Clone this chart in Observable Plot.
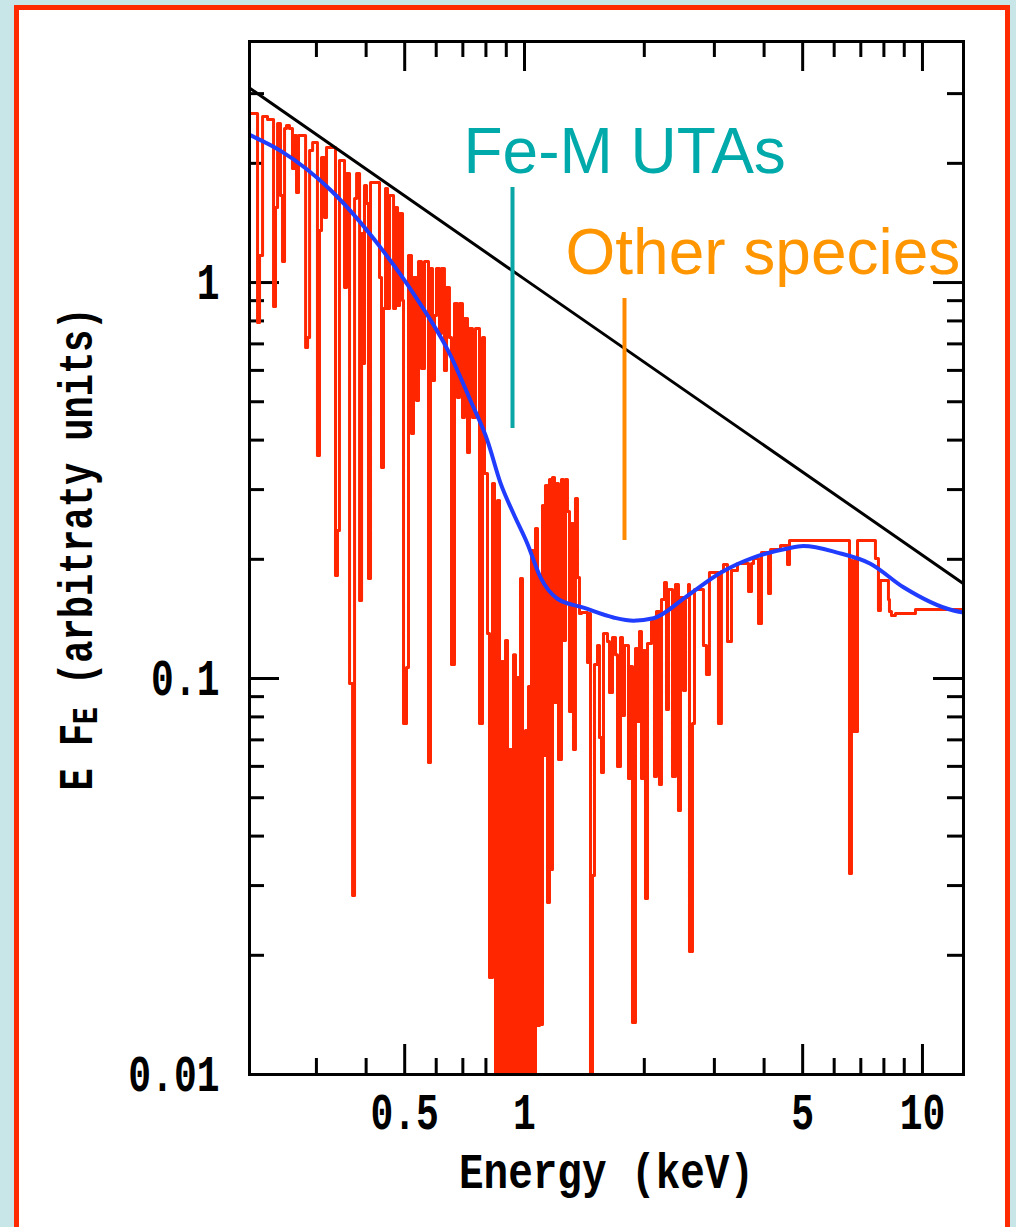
<!DOCTYPE html>
<html>
<head>
<meta charset="utf-8">
<script src="https://cdn.jsdelivr.net/npm/d3@7"></script>
<script src="https://cdn.jsdelivr.net/npm/@observablehq/plot@0.6"></script>
<style>
html, body { margin: 0; padding: 0; }
body { width: 1016px; height: 1227px; background: #c8e6e8; position: relative; overflow: hidden; }
#panel { position: absolute; left: 14px; top: 5px; width: 996px; height: 1260px; border: 5px solid #ff2a00; background: #ffffff; box-sizing: border-box; }
#chart { position: absolute; left: 0; top: 0; }
#chart svg { display: block; }
</style>
</head>
<body>
<div id="panel"></div>
<div id="chart"></div>
<script>
// ---------- data ----------
// Red: absorbed model spectrum (step histogram), energy in keV
const redEnergy = [
  0.2014,0.2134,0.2159,0.2197,0.2261,0.2341,0.2368,0.2396,0.2437,0.2466,
  0.2495,0.2523,0.2567,0.2612,0.2643,0.2674,0.2705,0.2818,0.2851,0.2884,
  0.2935,0.3018,0.3054,0.3090,0.3144,0.3181,0.3350,0.3389,0.3428,0.3530,
  0.3571,0.3634,0.3698,0.3741,0.3785,0.3851,0.3896,0.3918,0.3963,0.4009,
  0.4055,0.4103,0.4322,0.4372,0.4423,0.4475,0.4527,0.4580,0.4688,0.4742,
  0.4797,0.4853,0.4938,0.4966,0.5053,0.5111,0.5201,0.5261,0.5353,0.5416,
  0.5510,0.5607,0.5738,0.5805,0.5872,0.5941,0.6010,0.6115,0.6186,0.6293,
  0.6368,0.6478,0.6554,0.6669,0.6785,0.6864,0.6985,0.7066,0.7191,0.7274,
  0.7402,0.7532,0.7707,0.7843,0.7934,0.8073,0.8167,0.8310,0.8407,0.8455,
  0.8555,0.8654,0.8754,0.8857,0.8960,0.9064,0.9170,0.9276,0.9384,0.9493,
  0.9603,0.9715,0.9770,0.9885,1.0000,1.0058,1.0116,1.0234,1.0353,1.0413,
  1.0534,1.0596,1.0657,1.0781,1.0906,1.0970,1.1097,1.1162,1.1291,1.1423,
  1.1556,1.1623,1.1758,1.1895,1.2033,1.2173,1.2386,1.2530,1.2676,1.2823,
  1.2972,1.3123,1.3276,1.3430,1.3587,1.3745,1.3905,1.4397,1.4565,1.4649,
  1.4820,1.4992,1.5255,1.5432,1.5612,1.5793,1.6163,1.6351,1.6639,1.6930,
  1.7127,1.7427,1.7630,1.7835,1.8252,1.8464,1.8679,1.9006,1.9227,1.9451,
  1.9677,1.9906,2.0138,2.0372,2.0849,2.1213,2.1460,2.1836,2.2090,2.2477,
  2.2738,2.3003,2.3541,2.3953,2.4373,2.4657,2.5090,2.5382,2.5826,2.5976,
  2.6431,2.6739,2.8163,2.8656,2.9158,3.0715,3.1252,3.1623,3.2364,3.3121,
  3.4291,3.6550,3.7190,3.7623,3.8726,3.9404,4.1039,4.1516,4.3987,4.5802,
  4.6336,6.556,6.632,6.670,6.748,6.7887,6.867,
  7.6186,7.7519,7.8422,8.2133,8.2611,8.3572,8.5528,9.6030,12.68
];
const redFlux = [
  2.672,0.7924,1.170,2.626,2.580,0.8697,1.547,2.520,1.659,1.130,
  2.448,2.491,2.448,1.941,2.350,1.688,2.350,0.6853,0.7262,2.154,
  2.257,0.3658,1.353,2.069,1.459,2.192,0.1820,0.2365,2.033,0.9713,
  1.885,0.09713,0.02831,1.630,1.885,0.1574,1.330,0.6243,1.758,1.583,
  0.1789,1.789,1.030,0.3409,0.8599,1.727,0.8599,1.659,0.8599,1.547,
  0.8748,1.494,0.9006,0.07697,0.1066,1.170,0.4155,1.030,0.5036,1.130,
  0.6065,1.130,0.06136,1.085,0.5657,0.8254,1.085,0.7433,1.085,0.5995,
  0.9713,0.7262,0.1085,0.8851,0.5124,0.8851,0.4561,0.8111,0.3722,0.7654,
  0.4561,0.7654,0.07697,0.7262,0.3294,0.1299,0.01758,0.3108,0.1307,0.009,
  0.2814,0.009,0.1104,0.009,0.1247,0.009,0.06617,0.009,0.1149,0.009,
  0.1006,0.009,0.1789,0.009,0.01758,0.07390,0.009,0.09546,0.009,0.2105,
  0.04751,0.009,0.2392,0.01329,0.1789,0.01337,0.2734,0.06390,0.3072,0.02718,
  0.3181,0.03293,0.3218,0.08697,0.3108,0.06245,0.3181,0.1247,0.3181,0.2640,
  0.08254,0.2462,0.06617,0.2847,0.1799,0.1460,0.1468,0.1098,0.1460,0.009,
  0.03181,0.1085,0.1212,0.07096,0.05789,0.1299,0.1240,0.09218,0.1269,0.1149,
  0.05995,0.1269,0.08064,0.1212,0.05590,0.1072,0.01353,0.1191,0.07787,0.1315,
  0.05590,0.1177,0.02782,0.1226,0.1393,0.05655,0.1477,0.05399,0.1583,0.1748,
  0.08350,0.1678,0.05655,0.1727,0.04642,0.1602,0.09326,0.1602,0.1727,0.02044,
  0.07697,0.1678,0.1212,0.1023,0.1852,0.07697,0.1863,0.1940,0.1240,0.1874,
  0.1952,0.1658,0.1952,0.2009,0.1377,0.2081,0.1639,0.2117,0.2167,0.1940,
  0.2231,0.03218,0.1986,0.07347,0.1986,0.07347,0.2231,
  0.2009,0.1485,0.1768,0.1583,0.1477,0.1442,0.1460,0.1494,0.1494
];

// Blue: smoothed spectrum
const blueEnergy = [0.2037,0.244,0.326,0.435,0.526,0.652,0.732,0.807,0.871,0.938,1.017,1.097,1.21,1.407,1.673,1.879,2.11,2.57,3.11,3.76,4.58,5.02,6.11,7.40,8.96,11.96,12.68];
const blueFlux   = [2.36,2.15,1.71,1.225,0.938,0.654,0.503,0.399,0.311,0.261,0.219,0.180,0.159,0.151,0.1426,0.140,0.142,0.162,0.185,0.202,0.213,0.216,0.208,0.195,0.170,0.1485,0.1468];

// Black: unabsorbed power law
const blackEnergy = [0.2037, 1.0, 12.68];
const blackFlux   = [3.10, 1.02, 0.1736];

// Axis ticks
const xMajorTicks = [0.5, 1, 5, 10];
const xMinorTicks = [0.3, 0.4, 0.6, 0.7, 0.8, 0.9, 2, 3, 4, 6, 7, 8, 9];
const xTickLabels = ["0.5", "1", "5", "10"];
const yMajorTicks = [0.01, 0.1, 1];
const yMinorTicks = [0.02,0.03,0.04,0.05,0.06,0.07,0.08,0.09,0.2,0.3,0.4,0.5,0.6,0.7,0.8,0.9,2,3];
const yTickLabels = ["0.01", "0.1", "1"];

// Annotations
const annotationLabels = ["Fe-M UTAs", "Other species"];
const annotationLabelEnergy = [0.7027, 1.2676];
const annotationLabelFlux = [1.896, 1.054];
const annotationLineEnergy = [0.9330, 1.7835];
const annotationLineLow = [0.4279, 0.2231];
const annotationLineHigh = [1.738, 0.9112];

// ---------- build tables ----------
const red = redEnergy.map((e, i) => ({energy: e, flux: redFlux[i]}));
const blue = blueEnergy.map((e, i) => ({energy: e, flux: blueFlux[i]}));
const black = blackEnergy.map((e, i) => ({energy: e, flux: blackFlux[i]}));
const xLabels = xMajorTicks.map((v, i) => ({value: v, label: xTickLabels[i]}));
const yLabels = yMajorTicks.map((v, i) => ({value: v, label: yTickLabels[i]}));
const notes = annotationLabels.map((t, i) => ({
  text: t, lx: annotationLabelEnergy[i], ly: annotationLabelFlux[i],
  x: annotationLineEnergy[i], y1: annotationLineLow[i], y2: annotationLineHigh[i]
}));

const TOP = 41, BOTTOM = 1074, LEFT = 249, RIGHT = 963;
const H = BOTTOM - TOP, W = RIGHT - LEFT;
const MONO = "Liberation Mono, Courier New, monospace";
const SANS = "Liberation Sans, Arial, Helvetica, sans-serif";
const tickStyle = {stroke: "black", strokeWidth: 3};

const plot = Plot.plot({
  width: 1016,
  height: 1227,
  marginLeft: LEFT,
  marginRight: 1016 - RIGHT,
  marginTop: TOP,
  marginBottom: 1227 - BOTTOM,
  style: {background: "transparent", overflow: "visible"},
  x: {type: "log", domain: [0.2037, 12.68], axis: null},
  y: {type: "log", domain: [0.01, 4.062], axis: null},
  marks: [
    Plot.tickX(xMinorTicks, {x: d => d, insetTop: H - 16, ...tickStyle}),
    Plot.tickX(xMinorTicks, {x: d => d, insetBottom: H - 16, ...tickStyle}),
    Plot.tickX(xMajorTicks, {x: d => d, insetTop: H - 30, ...tickStyle}),
    Plot.tickX(xMajorTicks, {x: d => d, insetBottom: H - 30, ...tickStyle}),
    Plot.tickY(yMinorTicks, {y: d => d, insetRight: W - 15, ...tickStyle}),
    Plot.tickY(yMinorTicks, {y: d => d, insetLeft: W - 16, ...tickStyle}),
    Plot.tickY(yMajorTicks, {y: d => d, insetRight: W - 30, ...tickStyle}),
    Plot.tickY(yMajorTicks, {y: d => d, insetLeft: W - 30, ...tickStyle}),
    Plot.line(red, {x: "energy", y: "flux", curve: "step-after", stroke: "#ff2600", strokeWidth: 3, clip: true}),
    Plot.line(black, {x: "energy", y: "flux", stroke: "#000000", strokeWidth: 3, clip: true}),
    Plot.line(blue, {x: "energy", y: "flux", curve: "monotone-x", stroke: "#1f3cff", strokeWidth: 4, clip: true}),
    Plot.frame({stroke: "black", strokeWidth: 3}),
    Plot.ruleX(notes.slice(0, 1), {x: "x", y1: "y1", y2: "y2", stroke: "#0aa6a6", strokeWidth: 4}),
    Plot.ruleX(notes.slice(1, 2), {x: "x", y1: "y1", y2: "y2", stroke: "#ff8a00", strokeWidth: 4}),
    Plot.text(notes.slice(0, 1), {x: "lx", y: "ly", text: "text", textAnchor: "start", lineAnchor: "bottom", fontSize: 64, fontFamily: SANS, fill: "#00aaaa"}),
    Plot.text(notes.slice(1, 2), {x: "lx", y: "ly", text: "text", textAnchor: "start", lineAnchor: "bottom", fontSize: 64, fontFamily: SANS, fill: "#ff9600"}),
    Plot.text(xLabels, {x: "value", text: "label", frameAnchor: "bottom", dy: 38, lineAnchor: "middle", fontFamily: MONO, fontWeight: "bold", fontSize: 38, fill: "black"}),
    Plot.text(yLabels, {y: "value", text: "label", frameAnchor: "left", textAnchor: "end", dx: -30, lineAnchor: "middle", fontFamily: MONO, fontWeight: "bold", fontSize: 38, fill: "black"}),
    Plot.text(["Energy (keV)"], {frameAnchor: "bottom", dy: 113, lineAnchor: "bottom", fontFamily: MONO, fontWeight: "bold", fontSize: 41, fill: "black"})
  ]
});

document.getElementById("chart").appendChild(plot);

// stretch the typewriter-style axis text vertically, like the bitmap font of the original
const monoTexts = plot.querySelectorAll('g[font-family^="Liberation Mono"] text');
monoTexts.forEach(t => {
  const stretch = t.textContent.startsWith("Energy") ? 1.2 : 1.35;
  let tr = t.getAttribute("transform") || "";
  const x = t.getAttribute("x"), y = t.getAttribute("y");
  if (x != null && !/em$/.test(x)) { tr += ` translate(${x},0)`; t.removeAttribute("x"); }
  if (y != null && !/em$/.test(y)) { tr += ` translate(0,${y})`; t.removeAttribute("y"); }
  t.setAttribute("transform", tr + ` scale(1,${stretch})`);
});

// y-axis title with subscript
const yt = d3.select(plot).append("text")
  .attr("transform", `translate(92,549) rotate(-90) scale(1,1.3)`)
  .attr("text-anchor", "middle")
  .attr("font-family", MONO)
  .attr("font-weight", "bold")
  .attr("font-size", 37)
  .attr("fill", "black");
yt.append("tspan").text("E F");
yt.append("tspan").attr("font-size", 28).attr("dy", 4).text("E");
yt.append("tspan").attr("dy", -4).text(" (arbitraty units)");
</script>
</body>
</html>
